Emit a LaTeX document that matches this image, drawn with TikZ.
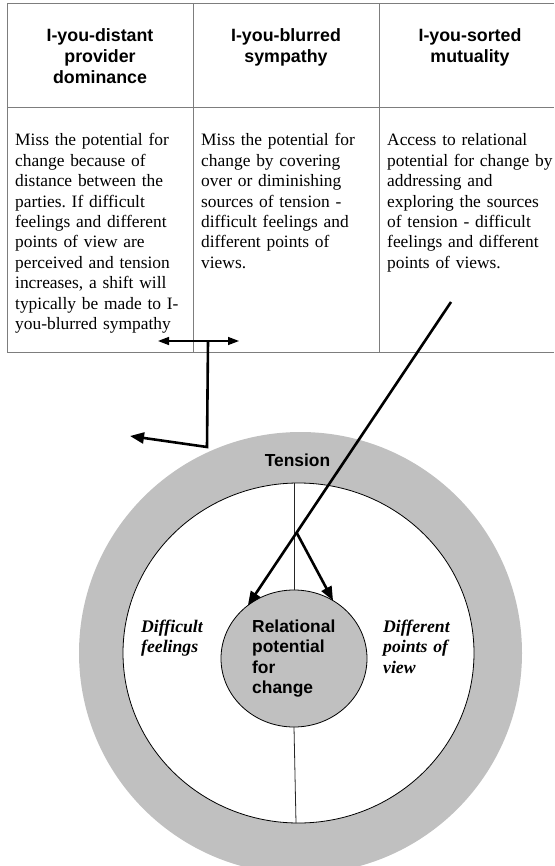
\documentclass[tikz,border=0pt]{standalone}
\usepackage{fontspec}
\setmainfont{Liberation Serif}
\newfontfamily\headfont{Liberation Sans}
\usetikzlibrary{arrows.meta,shapes.geometric,calc}
\definecolor{ringgray}{RGB}{192,192,192}
\definecolor{rulegray}{RGB}{125,125,125}
\frenchspacing
\begin{document}
\begin{tikzpicture}[x=1pt,y=-1pt,
  rule/.style={draw=rulegray,line width=1pt},
  head/.style={font=\headfont\bfseries\fontsize{17.8}{20.8}\selectfont,
    align=center,text width=180pt,anchor=base,inner sep=0pt},
  body/.style={font=\fontsize{17.4}{20.4}\selectfont,
    align=left,text width=180pt,anchor=base west,inner sep=0pt},
  corelabel/.style={font=\headfont\bfseries\fontsize{17.4}{20.5}\selectfont,
    align=left,text width=110pt,anchor=base west,inner sep=0pt},
  sidelabel/.style={font=\bfseries\itshape\fontsize{17.7}{20.5}\selectfont,
    align=left,text width=90pt,anchor=base west,inner sep=0pt},
  ring/.style={ellipse,inner sep=0pt,outer sep=0pt},
  divider/.style={draw=black!85,line width=0.8pt},
  bigarrow/.style={draw=black,line width=2.6pt,-{Triangle[length=14pt,width=11pt]}},
  twoway/.style={draw=black,line width=1.4pt,
    {Triangle[length=11pt,width=8pt]}-{Triangle[length=11pt,width=8pt]}}
]
\useasboundingbox (0,0) rectangle (554,866);

% table grid
\draw[rule] (7,4) -- (554,4);
\draw[rule] (7,108) -- (554,108);
\draw[rule] (7,352) -- (554,352);
\draw[rule] (7,4) -- (7,352);
\draw[rule] (193,4) -- (193,352);
\draw[rule] (379,4) -- (379,352);

% column headings
\node[head] (h1) at (100,41.5) {I-you-distant\\provider\\dominance};
\node[head] (h2) at (286,41.5) {I-you-blurred\\sympathy};
\node[head] (h3) at (470,41.5) {I-you-sorted\\mutuality};

% column descriptions
\node[body] (b1) at (15,146) {Miss the potential for\\change because of\\distance between the\\parties. If difficult\\feelings and different\\points of view are\\perceived and tension\\increases, a shift will\\typically be made to I-\\you-blurred sympathy};
\node[body] (b2) at (201,146) {Miss the potential for\\change by covering\\over or diminishing\\sources of tension -\\difficult feelings and\\different points of\\views.};
\node[body] (b3) at (387,146) {Access to relational\\potential for change by\\addressing and\\exploring the sources\\of tension - difficult\\feelings and different\\points of views.};

% concentric circles
\node[ring,fill=ringgray,minimum width=443pt,minimum height=442pt] (outer) at (300.5,653) {};
\node[ring,draw=black,line width=0.8pt,fill=white,minimum width=351pt,minimum height=340pt] (inner) at (298.5,653) {};
\node[ring,draw=black,line width=0.8pt,fill=ringgray,minimum width=146pt,minimum height=137pt] (core) at (294,658.5) {};

% radial dividers between the two sources of tension
\draw[divider] (core.north |- inner.north) -- (core.north);
\draw[divider] (core.south) -- ([xshift=2pt]core.south |- inner.south);

\node[font=\headfont\bfseries\fontsize{17.4}{20.5}\selectfont,anchor=base,inner sep=0pt] (tension) at (297.5,466) {Tension};
\node[corelabel] (potential) at (252,632) {Relational\\potential\\for\\change};
\node[sidelabel] (feelings) at (141,632) {Difficult\\feelings};
\node[sidelabel] (views) at (383,632) {Different\\points of\\view};

% shift from distant dominance towards blurred sympathy
\coordinate (dl) at (158,341);
\coordinate (dr) at (239,341);
\coordinate (stemtop) at (208,341);
\coordinate (elbow) at (207,447);
\coordinate (shiftend) at (130,436);
\draw[twoway] (dl) -- (dr);
\draw[bigarrow,line join=miter] (stemtop) -- (elbow) -- (shiftend);

% sorted mutuality reaching the relational potential
\coordinate (access) at (451,302);
\draw[bigarrow] (access) -- (core.131);
\coordinate (fork) at ($(access)!0.76!(core.131)$);
\draw[bigarrow] (fork) -- (core.56);
\end{tikzpicture}
\end{document}
